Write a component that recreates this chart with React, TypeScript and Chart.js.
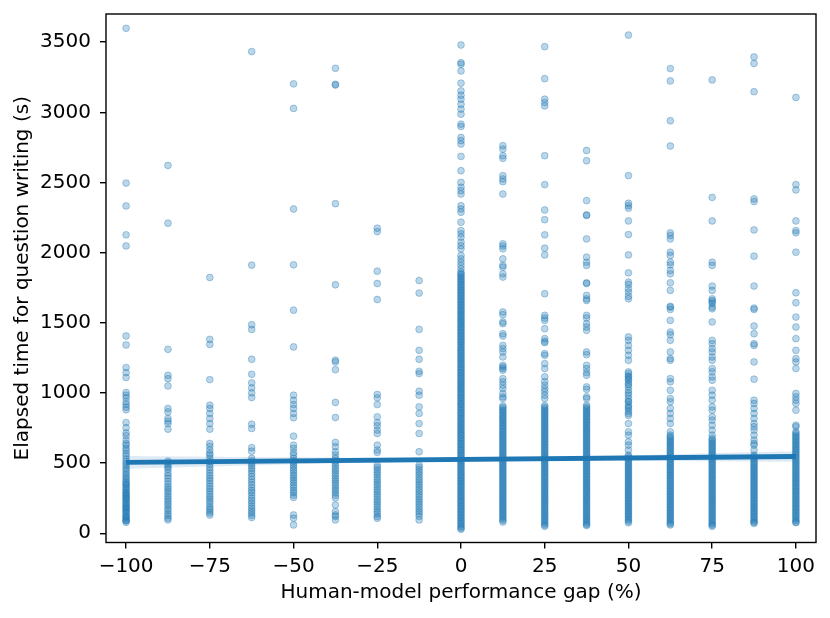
import React, { useEffect, useRef } from "react";
import { Chart, registerables } from "chart.js";

Chart.register(...registerables);

// x categories (human-model performance gap, %)
const xCategories = [-100, -87.5, -75, -62.5, -50, -37.5, -25, -12.5, 0, 12.5, 25, 37.5, 50, 62.5, 75, 87.5, 100];

// elapsed time values (s) per category
const yM100 = [3599, 2496, 2333, 2127, 2048, 1406, 1342, 1181, 1145, 1110, 1003, 984, 965, 937, 917, 898, 880, 789, 752, 715, 695, 664, 640, 628, 605, 590, 569, 551, 530, 512, 495, 480, 462, 448, 430, 416, 400, 388, 372, 362, 350, 344, 330, 318, 310, 295, 288, 280, 268, 262, 250, 242, 235, 220, 212, 205, 190, 184, 178, 165, 158, 150, 138, 125, 118, 112, 100, 92, 88, 78];
const yM87 = [2622, 2210, 1311, 1126, 1102, 1050, 889, 865, 818, 799, 782, 742, 514, 500, 485, 470, 455, 430, 410, 392, 370, 350, 330, 315, 298, 280, 262, 245, 228, 210, 195, 175, 160, 140, 125, 108, 95];
const yM75 = [1823, 1382, 1346, 1095, 913, 889, 854, 818, 782, 742, 640, 619, 593, 569, 557, 533, 510, 492, 470, 450, 430, 410, 392, 375, 355, 335, 318, 300, 280, 262, 245, 228, 210, 190, 175, 160, 145, 130];
const yM62 = [3433, 1911, 1486, 1453, 1240, 1133, 1072, 1036, 1001, 967, 777, 747, 610, 585, 533, 515, 498, 480, 462, 445, 425, 405, 385, 365, 345, 325, 305, 290, 270, 250, 232, 215, 195, 178, 160, 145, 128, 112];
const yM50 = [3203, 3028, 2311, 1913, 1590, 1328, 984, 948, 917, 889, 854, 823, 692, 628, 605, 576, 557, 533, 515, 498, 482, 465, 448, 430, 412, 395, 378, 360, 342, 325, 305, 290, 272, 255, 130, 107, 59];
const yM37 = [3314, 3200, 3195, 2349, 1771, 1233, 1221, 1166, 932, 825, 647, 617, 581, 557, 533, 515, 498, 480, 462, 445, 428, 410, 392, 375, 358, 340, 322, 305, 288, 270, 252, 201, 154, 130, 119, 95];
const yM25 = [2174, 2150, 1868, 1780, 1666, 989, 965, 917, 830, 789, 766, 735, 711, 628, 593, 576, 486, 470, 452, 435, 418, 400, 382, 365, 348, 330, 312, 295, 278, 260, 242, 225, 208, 190, 172, 155, 138, 120, 107];
const yM12 = [1801, 1712, 1453, 1304, 1240, 1154, 1138, 1012, 984, 901, 854, 782, 711, 581, 486, 470, 452, 435, 418, 400, 382, 365, 348, 330, 312, 295, 278, 260, 242, 225, 208, 190, 172, 155, 138, 120, 95];
const y0 = [3480, 3354, 3343, 3295, 3208, 3153, 3122, 3094, 3058, 3023, 2987, 2916, 2900, 2821, 2798, 2774, 2686, 2584, 2501, 2466, 2442, 2418, 2335, 2311, 2288, 2217, 2157, 2134, 2110, 2074, 2050, 2027, 1980, 1956, 1932, 1909, 1885,
  1862, 1850, 1841, 1829, 1818, 1806, 1797, 1785, 1774, 1763, 1752, 1740, 1731, 1719, 1708, 1696, 1687, 1675, 1664, 1653, 1642, 1630, 1621, 1609, 1598, 1586, 1577, 1565, 1554, 1543, 1532, 1520, 1511, 1499, 1488, 1476, 1467, 1455, 1444, 1433, 1422, 1410, 1401, 1389, 1378, 1366, 1357, 1345, 1334, 1323, 1312, 1300, 1291, 1279, 1268, 1256, 1247, 1235, 1224, 1213, 1202, 1190, 1181, 1169, 1158, 1146, 1137, 1125, 1114, 1103, 1092, 1080, 1071, 1059, 1048, 1036, 1027, 1015, 1004, 993, 982, 970, 961, 949, 938, 926, 917, 905, 894, 883, 872, 860, 851, 839, 828, 816, 807, 795, 784, 773, 762, 750, 741, 729, 718, 706, 697, 685, 674, 663, 652, 640, 631, 619, 608, 596, 587, 575, 564, 553, 542, 530, 521, 509, 498, 486, 477, 465, 454, 443, 432, 420, 411, 399, 388, 376, 367, 355, 344, 333, 322, 310, 301, 289, 278, 266, 257, 245, 234, 223, 212, 200, 191, 179, 168, 156, 147, 135, 124, 113, 102, 90, 81, 69, 58, 46, 37, 28];
const y12 = [2762, 2738, 2691, 2672, 2549, 2525, 2506, 2418, 2063, 2047, 2027, 1956, 1909, 1897, 1849, 1826, 1577, 1558, 1506, 1494, 1422, 1406, 1339, 1316, 1292, 1257, 1197, 1186, 1174, 1162, 1102, 1079, 1055, 1031, 996, 972, 960,
  908, 897, 885, 874, 862, 851, 839, 828, 816, 805, 793, 782, 770, 759, 747, 736, 724, 713, 701, 690, 678, 667, 655, 644, 632, 621, 609, 598, 586, 575, 563, 552, 540, 529, 517, 506, 494, 483, 471, 460, 448, 437, 425, 414, 402, 391, 379, 368, 356, 345, 333, 322, 310, 299, 287, 276, 264, 253, 241, 230, 218, 207, 195, 184, 172, 161, 149, 138, 126, 115, 103, 92, 80];
const y25 = [3468, 3240, 3094, 3070, 3046, 2691, 2485, 2304, 2235, 2127, 2032, 1984, 1707, 1553, 1534, 1517, 1458, 1387, 1368, 1358, 1280, 1268, 1209, 1174, 1115, 1081, 1055, 1031, 1010, 984, 960,
  910, 899, 887, 876, 864, 853, 841, 830, 818, 807, 795, 784, 772, 761, 749, 738, 726, 715, 703, 692, 680, 669, 657, 646, 634, 623, 611, 600, 588, 577, 565, 554, 542, 531, 519, 508, 496, 485, 473, 462, 450, 439, 427, 416, 404, 393, 381, 370, 358, 347, 335, 324, 312, 301, 289, 278, 266, 255, 243, 232, 220, 209, 197, 186, 174, 163, 151, 140, 128, 117, 105, 94, 82, 71, 59, 50];
const y37 = [2728, 2655, 2371, 2269, 2265, 2098, 1968, 1932, 1909, 1785, 1780, 1695, 1671, 1659, 1553, 1534, 1494, 1470, 1446, 1292, 1273, 1197, 1174, 1145, 1126, 1043, 1026, 972, 960,
  912, 901, 889, 878, 866, 855, 843, 832, 820, 809, 797, 786, 774, 763, 751, 740, 728, 717, 705, 694, 682, 671, 659, 648, 636, 625, 613, 602, 590, 579, 567, 556, 544, 533, 521, 510, 498, 487, 475, 464, 452, 441, 429, 418, 406, 395, 383, 372, 360, 349, 337, 326, 314, 303, 291, 280, 268, 257, 245, 234, 222, 211, 199, 188, 176, 165, 153, 142, 130, 119, 107, 96, 84, 73, 62, 55];
const y50 = [3551, 2549, 2352, 2335, 2317, 2226, 2129, 1984, 1856, 1790, 1773, 1743, 1719, 1690, 1671, 1399, 1375, 1339, 1304, 1268, 1233, 1150, 1138, 1120, 1115, 1100, 1090, 1070, 1060, 1043, 1019, 1000, 984, 960, 940, 937, 913, 900, 889, 870, 854, 840, 782, 723, 699, 652, 628, 593,
  557, 546, 534, 523, 511, 500, 488, 477, 465, 454, 442, 431, 419, 408, 396, 385, 373, 362, 350, 339, 327, 316, 304, 293, 281, 270, 258, 247, 235, 224, 212, 201, 189, 178, 166, 155, 143, 132, 120, 109, 97, 86, 75];
const y62 = [3312, 3224, 2940, 2760, 2141, 2122, 2098, 2003, 1980, 1932, 1913, 1873, 1849, 1785, 1731, 1617, 1612, 1595, 1517, 1434, 1415, 1375, 1292, 1245, 1233, 1102, 1079, 1019, 960, 937, 889, 854, 818, 782, 723,
  699, 688, 676, 665, 653, 642, 630, 619, 607, 596, 584, 573, 561, 550, 538, 527, 515, 504, 492, 481, 469, 458, 446, 435, 423, 412, 400, 389, 377, 366, 354, 343, 331, 320, 308, 297, 285, 274, 262, 251, 239, 228, 216, 205, 193, 182, 170, 159, 147, 136, 124, 113, 101, 90, 78, 67, 59];
const y75 = [3231, 2394, 2226, 1932, 1909, 1762, 1731, 1671, 1659, 1648, 1636, 1612, 1600, 1506, 1375, 1351, 1316, 1292, 1257, 1233, 1174, 1150, 1115, 1090, 1019, 984, 948, 901, 877, 830, 806, 770, 735, 699,
  676, 665, 653, 642, 630, 619, 607, 596, 584, 573, 561, 550, 538, 527, 515, 504, 492, 481, 469, 458, 446, 435, 423, 412, 400, 389, 377, 366, 354, 343, 331, 320, 308, 297, 285, 274, 262, 251, 239, 228, 216, 205, 193, 182, 170, 159, 147, 136, 124, 113, 101, 90, 78, 67, 58, 50];
const y87 = [3395, 3348, 3147, 2383, 2364, 2162, 1975, 1762, 1605, 1595, 1477, 1422, 1351, 1339, 1221, 1098, 948, 925, 889, 854, 818, 782, 759, 735, 699, 664, 640, 628, 593,
  557, 546, 534, 523, 511, 500, 488, 477, 465, 454, 442, 431, 419, 408, 396, 385, 373, 362, 350, 339, 327, 316, 304, 293, 281, 270, 258, 247, 235, 224, 212, 201, 189, 178, 166, 155, 143, 132, 120, 109, 97, 86, 78, 70];
const y100 = [3106, 2485, 2447, 2226, 2157, 2141, 2003, 1714, 1643, 1541, 1470, 1387, 1304, 1245, 1221, 1174, 996, 972, 948, 925, 877, 770, 759,
  723, 712, 700, 689, 677, 666, 654, 643, 631, 620, 608, 597, 585, 574, 562, 551, 539, 528, 516, 505, 493, 482, 470, 459, 447, 436, 424, 413, 401, 390, 378, 367, 355, 344, 332, 321, 309, 298, 286, 275, 263, 252, 240, 229, 217, 206, 194, 183, 171, 160, 148, 137, 125, 114, 102, 91, 80, 75];

const columnValues = [yM100, yM87, yM75, yM62, yM50, yM37, yM25, yM12, y0, y12, y25, y37, y50, y62, y75, y87, y100];

// regression fit line and its confidence band
const fitX = [-100, 100];
const fitY = [505, 547];
const bandX = [-100, -75, -50, -25, 0, 25, 50, 75, 100];
const bandLow = [460, 475, 491, 505, 514, 518, 516, 513, 510];
const bandHigh = [550, 545, 541, 537, 538, 544, 556, 571, 584];

// axis ticks
const xTicks = [-100, -75, -50, -25, 0, 25, 50, 75, 100];
const yTicks = [0, 500, 1000, 1500, 2000, 2500, 3000, 3500];

const BLUE = "#1f77b4";
const FONT = "'DejaVu Sans', sans-serif";
const FS = 20;

const fmt = (v: number) => (v < 0 ? "\u2212" + Math.abs(v) : String(v));

const framePlugin = {
  id: "frame",
  afterDatasetsDraw(chart: any) {
    const { ctx, chartArea } = chart;
    const { left, top, right, bottom } = chartArea;
    ctx.save();
    ctx.strokeStyle = "#000";
    ctx.lineWidth = 1.4;
    ctx.strokeRect(left, top, right - left, bottom - top);
    ctx.restore();
  },
};

export default function App() {
  const ref = useRef<HTMLCanvasElement | null>(null);

  useEffect(() => {
    if (!ref.current) return;
    const points: { x: number; y: number }[] = [];
    xCategories.forEach((x, i) => {
      columnValues[i].forEach((y) => points.push({ x, y }));
    });

    const chart = new Chart(ref.current, {
      type: "scatter",
      data: {
        datasets: [
          {
            type: "scatter",
            data: points,
            backgroundColor: "rgba(31,119,180,0.3)",
            borderColor: "rgba(31,119,180,0.35)",
            borderWidth: 1,
            pointRadius: 3.4,
            order: 3,
          } as any,
          {
            type: "line",
            data: bandX.map((x, i) => ({ x, y: bandLow[i] })),
            borderWidth: 0,
            borderColor: "rgba(0,0,0,0)",
            pointRadius: 0,
            fill: false,
            order: 2,
          } as any,
          {
            type: "line",
            data: bandX.map((x, i) => ({ x, y: bandHigh[i] })),
            borderWidth: 0,
            borderColor: "rgba(0,0,0,0)",
            backgroundColor: "rgba(31,119,180,0.15)",
            pointRadius: 0,
            fill: "-1",
            tension: 0.4,
            order: 2,
          } as any,
          {
            type: "line",
            data: fitX.map((x, i) => ({ x, y: fitY[i] })),
            borderColor: BLUE,
            borderWidth: 4.8,
            pointRadius: 0,
            fill: false,
            order: 1,
          } as any,
        ],
      },
      options: {
        animation: false,
        responsive: false,
        devicePixelRatio: 1,
        layout: { padding: { top: 14, right: 14, left: 0, bottom: 0 } },
        plugins: { legend: { display: false }, tooltip: { enabled: false } },
        scales: {
          x: {
            type: "linear",
            min: -106,
            max: 106,
            afterFit: (s: any) => {
              s.height = 75.5;
              s.paddingLeft = 0;
              s.paddingRight = 0;
            },
            afterBuildTicks: (s: any) => {
              s.ticks = xTicks.map((v) => ({ value: v }));
            },
            ticks: {
              callback: (v: any) => fmt(Number(v)),
              font: { family: FONT, size: FS },
              color: "#000",
              padding: 6,
              maxRotation: 0,
            },
            grid: { drawOnChartArea: false, drawTicks: true, tickLength: 6, color: "#000", lineWidth: 1.4 },
            border: { display: false },
            title: {
              display: true,
              text: "Human-model performance gap (%)",
              font: { family: FONT, size: FS },
              color: "#000",
              padding: { top: 0, bottom: 13 },
            },
          },
          y: {
            type: "linear",
            min: -66,
            max: 3701,
            afterFit: (s: any) => {
              s.width = 106;
              s.paddingTop = 0;
              s.paddingBottom = 0;
            },
            afterBuildTicks: (s: any) => {
              s.ticks = yTicks.map((v) => ({ value: v }));
            },
            ticks: {
              callback: (v: any) => fmt(Number(v)),
              font: { family: FONT, size: FS },
              color: "#000",
              padding: 9,
            },
            grid: { drawOnChartArea: false, drawTicks: true, tickLength: 6, color: "#000", lineWidth: 1.4 },
            border: { display: false },
            title: {
              display: true,
              text: "Elapsed time for question writing (s)",
              font: { family: FONT, size: FS },
              color: "#000",
              padding: { top: 11, bottom: 0 },
            },
          },
        },
      },
      plugins: [framePlugin],
    });
    return () => chart.destroy();
  }, []);

  return (
    <div style={{ position: "absolute", left: 0, top: 0, width: 830, height: 618, background: "#fff" }}>
      <canvas ref={ref} width={830} height={618} style={{ width: 830, height: 618 }} />
    </div>
  );
}
